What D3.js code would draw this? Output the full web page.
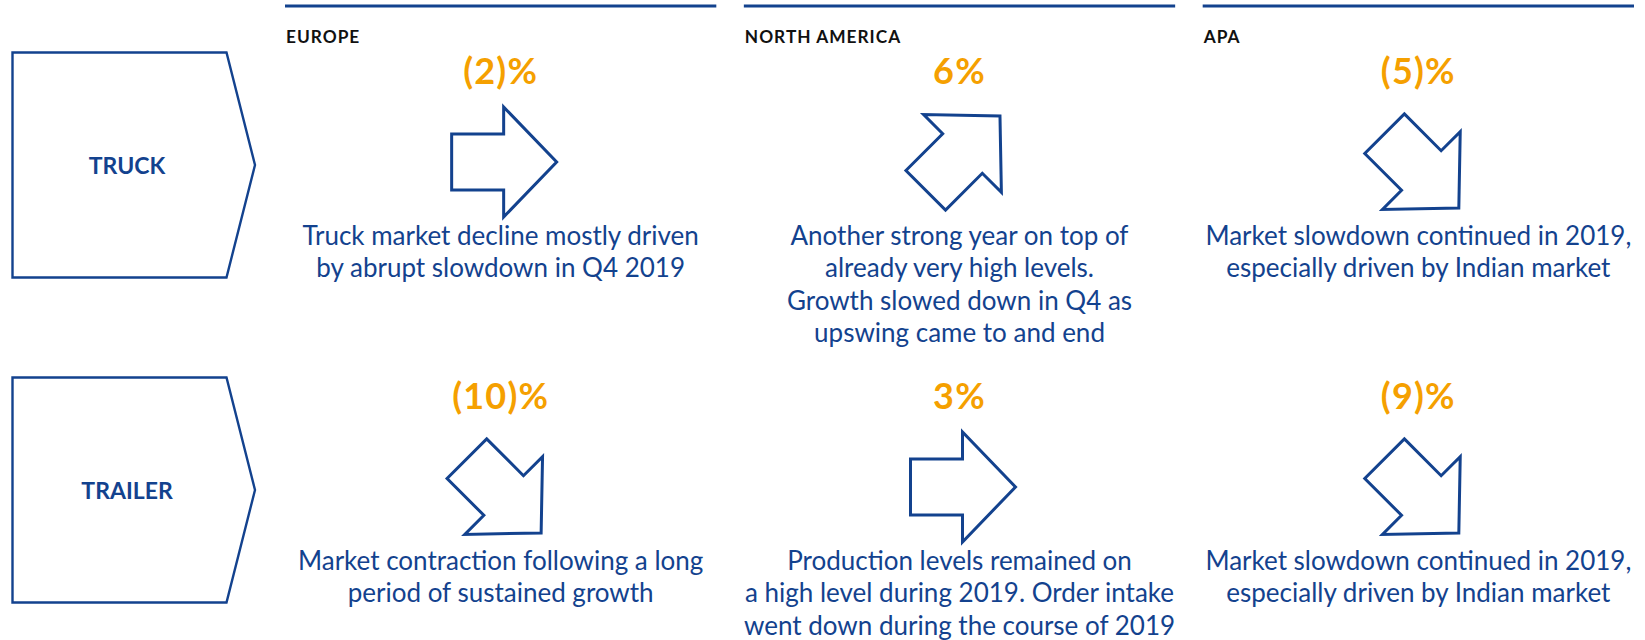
<!DOCTYPE html>
<html>
<head>
<meta charset="utf-8">
<script src="https://cdn.jsdelivr.net/npm/d3@7"></script>
<style>
    body { margin: 0; background: #ffffff; }
    svg { display: block; font-family: Lato, "Open Sans", sans-serif; }
</style>
</head>
<body>
<div id="visual"></div>
<script>

/* market development 2019 vs 2018, per segment and region */

var rows = ["TRUCK", "TRAILER"];
var regions = ["EUROPE", "NORTH AMERICA", "APA"];

var truckChange = [-2, 6, -5];
var trailerChange = [-10, 3, -9];

var truckNotes = [
    ["Truck market decline mostly driven", "by abrupt slowdown in Q4 2019"],
    ["Another strong year on top of", "already very high levels.", "Growth slowed down in Q4 as", "upswing came to and end"],
    ["Market slowdown continued in 2019,", "especially driven by Indian market"]
];
var trailerNotes = [
    ["Market contraction following a long", "period of sustained growth"],
    ["Production levels remained on", "a high level during 2019. Order intake", "went down during the course of 2019"],
    ["Market slowdown continued in 2019,", "especially driven by Indian market"]
];

var w = 1645, h = 640;
var blue = "#13428e", orange = "#f5a000";

var svg = d3.select("#visual").append("svg")
    .attr("width", w)
    .attr("height", h);

var x = d3.scaleBand().domain(regions).range([285, 1634]).paddingInner(0.06);
var y = d3.scalePoint().domain(rows).range([0, 325]);

// one cell per row x region
var cells = [];
rows.forEach(function (r, ri) {
    var changes = ri == 0 ? truckChange : trailerChange;
    var notes = ri == 0 ? truckNotes : trailerNotes;
    regions.forEach(function (g, gi) {
        cells.push({row: r, region: g, value: changes[gi], note: notes[gi]});
    });
});

function colCenter(region) {
    return x(region) + x.bandwidth() / 2;
}

function formatChange(v) {
    return v < 0 ? "(" + Math.abs(v) + ")%" : v + "%";
}

// flat arrow for small moves, diagonal for larger ones
function arrowAngle(v) {
    if (v > 3) return -45;
    if (v < -3) return 45;
    return 0;
}

/* ---------- column headers ---------- */

svg.selectAll("line.head")
    .data(regions)
    .enter().append("line")
    .attr("class", "head")
    .attr("x1", function (d) { return x(d); })
    .attr("x2", function (d) { return x(d) + x.bandwidth(); })
    .attr("y1", 6)
    .attr("y2", 6)
    .attr("stroke", blue)
    .attr("stroke-width", 3);

svg.selectAll("text.region")
    .data(regions)
    .enter().append("text")
    .attr("class", "region")
    .attr("x", function (d) { return x(d) + 1; })
    .attr("y", 43)
    .attr("font-size", 17.3)
    .attr("font-weight", "bold")
    .attr("letter-spacing", 1)
    .attr("fill", "#111111")
    .text(function (d) { return d; });

/* ---------- row labels (chevron boxes) ---------- */

var rowBox = svg.selectAll("g.rowbox")
    .data(rows)
    .enter().append("g")
    .attr("class", "rowbox")
    .attr("transform", function (d) { return "translate(0," + y(d) + ")"; });

rowBox.append("path")
    .attr("d", "M12.5,52.5 L226.5,52.5 L255,165 L226.5,277.5 L12.5,277.5 Z")
    .attr("fill", "none")
    .attr("stroke", blue)
    .attr("stroke-width", 2.4);

rowBox.append("text")
    .attr("x", 127)
    .attr("y", 174)
    .attr("text-anchor", "middle")
    .attr("font-size", 23)
    .attr("font-weight", "bold")
    .attr("fill", blue)
    .text(function (d) { return d; });

/* ---------- cells ---------- */

var arrowShape = [[-52, -28], [0, -28], [0, -55], [53, 0], [0, 55], [0, 28], [-52, 28]];
var arrowLine = d3.line().curve(d3.curveLinearClosed);

var cell = svg.selectAll("g.cell")
    .data(cells)
    .enter().append("g")
    .attr("class", "cell")
    .attr("transform", function (d) { return "translate(" + colCenter(d.region) + "," + y(d.row) + ")"; });

cell.append("text")
    .attr("class", "pct")
    .attr("x", 0)
    .attr("y", 84)
    .attr("text-anchor", "middle")
    .attr("font-size", 36)
    .attr("font-weight", "bold")
    .attr("letter-spacing", 1.2)
    .attr("fill", orange)
    .text(function (d) { return formatChange(d.value); });

cell.append("path")
    .attr("class", "arrow")
    .attr("d", arrowLine(arrowShape))
    .attr("transform", function (d) {
        var a = arrowAngle(d.value);
        return "translate(3," + (162 + 8.5 * a / 45) + ") rotate(" + a + ")";
    })
    .attr("fill", "#ffffff")
    .attr("stroke", blue)
    .attr("stroke-width", 3)
    .attr("stroke-linejoin", "miter");

cell.selectAll("text.note")
    .data(function (d) { return d.note; })
    .enter().append("text")
    .attr("class", "note")
    .attr("x", 0)
    .attr("y", function (d, i) { return 245 + i * 32.4; })
    .attr("text-anchor", "middle")
    .attr("font-size", 26)
    .attr("fill", blue)
    .text(function (d) { return d; });

</script>
</body>
</html>
